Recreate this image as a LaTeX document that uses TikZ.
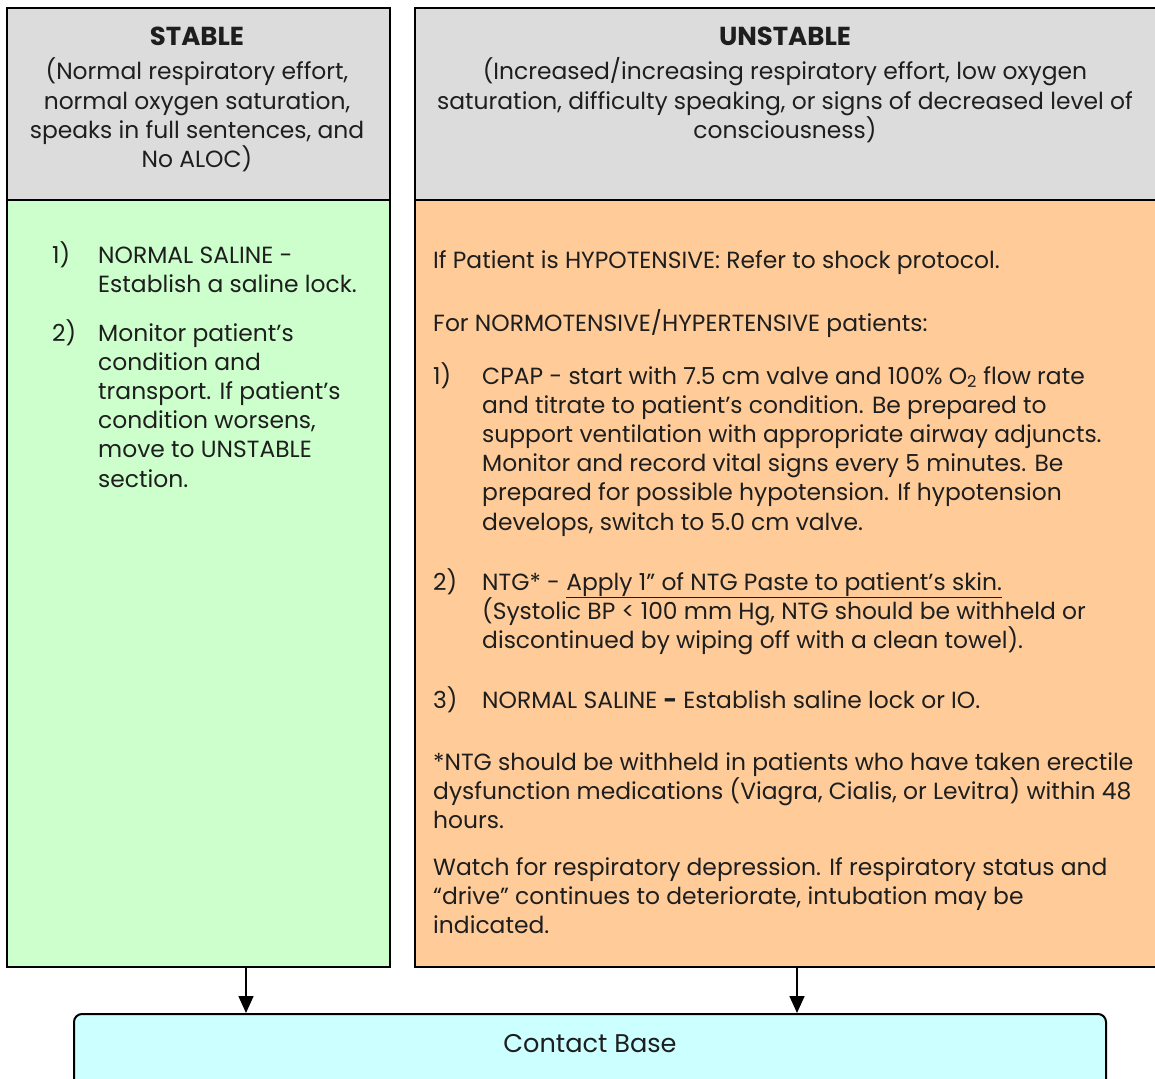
\documentclass[tikz,border=0pt]{standalone}
\usepackage{fontspec}
\setmainfont{Poppins}
\usetikzlibrary{arrows.meta}

\definecolor{hdrgray}{HTML}{DCDCDC}
\definecolor{stablebg}{HTML}{CCFFCC}
\definecolor{unstablebg}{HTML}{FFCC99}
\definecolor{basebg}{HTML}{CCFFFF}
\definecolor{ink}{HTML}{1E1E1E}

% stacked lines, baseline of the block = baseline of its first line
\newcommand\leftblock[1]{\vtop{\baselineskip=29.2pt\lineskiplimit=-20pt\halign{##\hfil\cr#1\crcr}}}
\newcommand\midblock[1]{\vtop{\baselineskip=29.2pt\lineskiplimit=-20pt\halign{\hfil##\hfil\cr#1\crcr}}}

\begin{document}
\begin{tikzpicture}[x=1pt,y=-1pt,
  panel/.style={draw=black, line width=2pt, rectangle, inner sep=0pt, anchor=north west},
  basebox/.style={draw=black, line width=2pt, rectangle, rounded corners=8pt, fill=basebg, inner sep=0pt, anchor=north},
  txt/.style={text=ink, inner sep=0pt, font=\fontsize{23.4}{29.2}\selectfont},
  para/.style={txt, anchor=base west},
  ctr/.style={txt, anchor=base},
  ttl/.style={text=ink, inner sep=0pt, anchor=base, font=\fontsize{26}{29}\selectfont\bfseries},
  flow/.style={draw=black, line width=1.6pt, -{Triangle[length=17pt,width=15pt]}}
]
\useasboundingbox (0,0) rectangle (1155,1078);

% panels
\node[panel, fill=hdrgray, minimum width=383pt, minimum height=192pt] (stableHead) at (6,7) {};
\node[panel, fill=stablebg, minimum width=383pt, minimum height=767pt] (stableBody) at (6,199) {};
\node[panel, fill=hdrgray, minimum width=766pt, minimum height=192pt] (unstableHead) at (414,7) {};
\node[panel, fill=unstablebg, minimum width=766pt, minimum height=767pt] (unstableBody) at (414,199) {};
\node[basebox, minimum width=1032pt, minimum height=100pt] (base) at (590,1013) {};
\node[txt, anchor=base, font=\fontsize{25.6}{29}\selectfont] (baseLabel) at (590,1052) {Contact Base};

% headers
\node[ttl] (stableTitle) at (197,46) {STABLE};
\node[ctr] (stableCrit) at (197,80) {\midblock{(Normal respiratory effort,\cr normal oxygen saturation,\cr speaks in full sentences, and\cr No ALOC)}};
\node[ttl] (unstableTitle) at (785,46) {UNSTABLE};
\node[ctr] (unstableCrit) at (785,80) {\midblock{(Increased/increasing respiratory effort, low oxygen\cr saturation, difficulty speaking, or signs of decreased level of\cr consciousness)}};

% stable treatment
\node[para] (sNum1) at (52,263) {1)};
\node[para] (sItem1) at (98,263) {\leftblock{NORMAL SALINE -\cr Establish a saline lock.}};
\node[para] (sNum2) at (52,341) {2)};
\node[para] (sItem2) at (98,341) {\leftblock{Monitor patient’s\cr condition and\cr transport. If patient’s\cr condition worsens,\cr move to UNSTABLE\cr section.}};

% unstable treatment
\node[para] (uHypo) at (433,268) {If Patient is HYPOTENSIVE: Refer to shock protocol.};
\node[para] (uNormo) at (433,331) {For NORMOTENSIVE/HYPERTENSIVE patients:};
\node[para] (uNum1) at (433,384) {1)};
\node[para] (uItem1) at (482,384) {\leftblock{CPAP - start with 7.5 cm valve and 100\% O\textsubscript{2} flow rate\cr and titrate to patient’s condition. Be prepared to\cr support ventilation with appropriate airway adjuncts.\cr Monitor and record vital signs every 5 minutes. Be\cr prepared for possible hypotension. If hypotension\cr develops, switch to 5.0 cm valve.}};
\node[para] (uNum2) at (433,590) {2)};
\node[para] (uItem2) at (482,590) {\leftblock{NTG* - \underline{Apply 1” of NTG Paste to patient’s skin.}\cr (Systolic BP < 100 mm Hg, NTG should be withheld or\cr discontinued by wiping off with a clean towel).}};
\node[para] (uNum3) at (433,708) {3)};
\node[para] (uItem3) at (482,708) {NORMAL SALINE \textbf{-} Establish saline lock or IO.};
\node[para] (uNote) at (433,770) {\leftblock{*NTG should be withheld in patients who have taken erectile\cr dysfunction medications (Viagra, Cialis, or Levitra) within 48\cr hours.}};
\node[para] (uWatch) at (433,875) {\leftblock{Watch for respiratory depression. If respiratory status and\cr “drive” continues to deteriorate, intubation may be\cr indicated.}};

% connectors to the base contact box
\coordinate (fromStable) at (246,966);
\coordinate (fromUnstable) at (797,966);
\draw[flow] (fromStable) -- (fromStable |- base.north);
\draw[flow] (fromUnstable) -- (fromUnstable |- base.north);
\end{tikzpicture}
\end{document}
